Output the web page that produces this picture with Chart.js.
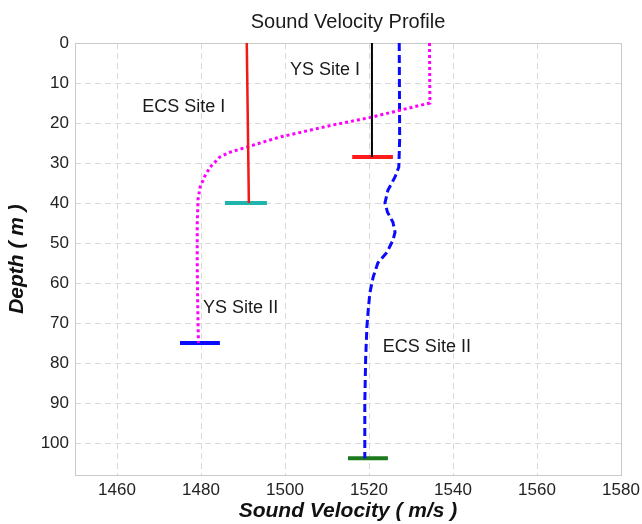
<!DOCTYPE html>
<html>
<head>
<meta charset="utf-8">
<title>Sound Velocity Profile</title>
<script src="https://cdn.jsdelivr.net/npm/chart.js@4/dist/chart.umd.min.js"></script>
<style>
  html, body { margin: 0; padding: 0; background: #ffffff; }
  #wrap { width: 642px; height: 524px; }
</style>
</head>
<body>
<div id="wrap"><canvas id="svp" width="642" height="524"></canvas></div>
<script>
// Axis ticks
const velocityTicks = [1460, 1480, 1500, 1520, 1540, 1560, 1580];
const depthTicks = [0, 10, 20, 30, 40, 50, 60, 70, 80, 90, 100];

// ECS Site I profile (m, m/s)
const ecs1Depth = [0, 40];
const ecs1Velocity = [1490.9, 1491.4];

// YS Site I profile
const ys1Depth = [0, 28.5];
const ys1Velocity = [1520.7, 1520.7];

// YS Site II profile
const ys2Depth = [0, 15, 16.8, 18.6, 20.5, 23.5, 26, 27.3, 28.5, 31, 33.5, 36, 39, 45, 55, 65, 75];
const ys2Velocity = [1534.4, 1534.5, 1527.4, 1520.4, 1511.4, 1498.8, 1491, 1486.9, 1484.5, 1482.2, 1480.8, 1479.8, 1479.3, 1479.1, 1479.1, 1479.2, 1479.4];

// ECS Site II profile
const ecs2Depth = [0, 24, 31, 33.5, 36.8, 40, 42.3, 44.8, 47.3, 49.3, 52.3, 55, 58.5, 62.5, 67, 71, 79, 90, 103.8];
const ecs2Velocity = [1527.2, 1527.3, 1527.1, 1526.2, 1524.5, 1523.8, 1524.4, 1525.7, 1526.2, 1525.7, 1524.3, 1522.1, 1521.0, 1520.2, 1519.8, 1519.5, 1519.2, 1519.0, 1519.0];

// Bottom markers at the end of each cast
const markerDepth = [40, 28.5, 75, 103.8];
const markerStart = [1485.7, 1516, 1475, 1515];
const markerEnd = [1495.7, 1525.7, 1484.5, 1524.5];
const markerColor = ['#1db5ad', '#ff1a1a', '#0a0aff', '#1c7a1c'];

// Site labels
const siteNames = ['ECS Site I', 'YS Site I', 'YS Site II', 'ECS Site II'];
const siteLabelVelocity = [1466, 1501.2, 1480.5, 1523.3];
const siteLabelDepth = [16, 6.75, 66.25, 76];

const FONT = '"Liberation Sans", Arial, Helvetica, sans-serif';

function pts(vel, dep) {
  return vel.map((v, i) => ({ x: v, y: dep[i] }));
}

const datasets = [
  { data: pts(ecs1Velocity, ecs1Depth), borderColor: '#f01818', borderWidth: 2.5 },
  { data: pts(ys1Velocity, ys1Depth), borderColor: '#000000', borderWidth: 2 },
  { data: pts(ys2Velocity, ys2Depth), borderColor: '#ff00ff', borderWidth: 3, borderDash: [3, 3] },
  { data: pts(ecs2Velocity, ecs2Depth), borderColor: '#0a0aff', borderWidth: 3, borderDash: [8, 4] }
].map(d => Object.assign({ showLine: true, pointRadius: 0, tension: 0, fill: false }, d));

markerDepth.forEach((d, i) => {
  datasets.push({
    data: [{ x: markerStart[i], y: d }, { x: markerEnd[i], y: d }],
    borderColor: markerColor[i], borderWidth: 4, showLine: true, pointRadius: 0,
    borderCapStyle: 'butt', fill: false
  });
});

// Light frame around the plotting area
const frame = {
  id: 'frame',
  beforeDatasetsDraw(chart) {
    const { ctx, chartArea: a } = chart;
    ctx.save();
    ctx.strokeStyle = '#c9c9c9';
    ctx.lineWidth = 1;
    ctx.setLineDash([]);
    ctx.strokeRect(Math.round(a.left) + 0.5, Math.round(a.top) + 0.5,
      Math.round(a.right - a.left), Math.round(a.bottom - a.top));
    ctx.restore();
  }
};

// Site names placed in data coordinates
const siteText = {
  id: 'siteText',
  afterDatasetsDraw(chart) {
    const { ctx, scales: { x, y } } = chart;
    ctx.save();
    ctx.font = '18px ' + FONT;
    ctx.fillStyle = '#1a1a1a';
    ctx.textAlign = 'left';
    ctx.textBaseline = 'middle';
    siteNames.forEach((n, i) => {
      ctx.fillText(n, x.getPixelForValue(siteLabelVelocity[i]), y.getPixelForValue(siteLabelDepth[i]));
    });
    ctx.restore();
  }
};

const gridStyle = { color: '#d9d9d9', lineWidth: 1, drawTicks: false };
const borderStyle = { display: false, dash: [6, 4] };

new Chart(document.getElementById('svp'), {
  type: 'scatter',
  data: { datasets },
  options: {
    responsive: false,
    animation: false,
    layout: { padding: { left: 0, right: 21, top: 0, bottom: 0 } },
    plugins: {
      legend: { display: false },
      tooltip: { enabled: false },
      title: {
        display: true,
        fullSize: false,
        text: 'Sound Velocity Profile',
        color: '#1a1a1a',
        font: { family: FONT, size: 20, weight: 'normal', lineHeight: 1.2 },
        padding: { top: 10, bottom: 9 }
      }
    },
    scales: {
      x: {
        type: 'linear',
        position: 'bottom',
        min: 1450,
        max: 1580,
        afterBuildTicks: s => { s.ticks = velocityTicks.map(v => ({ value: v })); },
        afterFit: s => { s.height = 49; s.paddingRight = 0; s.paddingLeft = 0; },
        border: Object.assign({}, borderStyle),
        grid: Object.assign({}, gridStyle),
        ticks: { color: '#222222', padding: 5, maxRotation: 0, font: { family: FONT, size: 17 }, callback: v => String(v) },
        title: {
          display: true,
          text: 'Sound Velocity ( m/s )',
          color: '#111111',
          padding: { top: 0, bottom: 0 },
          font: { family: FONT, size: 21, weight: 'bold', style: 'italic', lineHeight: 1.2 }
        }
      },
      y: {
        type: 'linear',
        position: 'left',
        reverse: true,
        min: 0,
        max: 108,
        afterBuildTicks: s => { s.ticks = depthTicks.map(v => ({ value: v })); },
        afterFit: s => { s.width = 75; },
        border: Object.assign({}, borderStyle),
        grid: Object.assign({}, gridStyle),
        ticks: { color: '#222222', padding: 6, font: { family: FONT, size: 17 }, callback: v => String(v) },
        title: {
          display: true,
          text: 'Depth ( m )',
          color: '#111111',
          padding: { top: 5, bottom: 0 },
          font: { family: FONT, size: 21, weight: 'bold', style: 'italic', lineHeight: 1.2 }
        }
      }
    }
  },
  plugins: [frame, siteText]
});
</script>
</body>
</html>
